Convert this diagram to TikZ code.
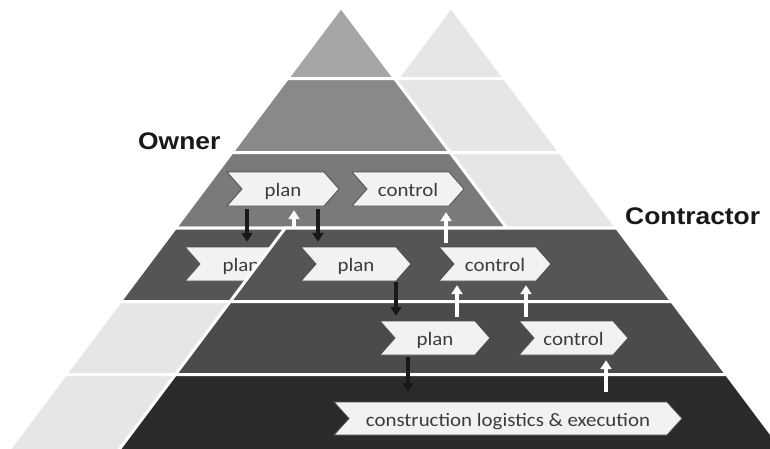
\documentclass[tikz,border=0pt]{standalone}
\usepackage{fontspec}
\setmainfont{Carlito}
\newfontfamily\labfont{Liberation Sans}
\usetikzlibrary{arrows.meta,calc}
\definecolor{lightb}{HTML}{E6E6E6}
\definecolor{ob1}{HTML}{A6A6A6}
\definecolor{ob2}{HTML}{898989}
\definecolor{ob3}{HTML}{7A7A7A}
\definecolor{db4}{HTML}{555555}
\definecolor{db5}{HTML}{4B4B4B}
\definecolor{db6}{HTML}{2B2B2B}
\definecolor{chevfill}{HTML}{F2F2F2}
\definecolor{chevtext}{HTML}{3C3C3C}
\tikzset{
  band/.style={draw=white, line width=3pt, line join=miter},
  chevshape/.style={fill=chevfill, draw=black!70, line width=0.8pt, line join=miter},
  chevlabel/.style={inner sep=0pt, text=chevtext, font=\fontsize{19}{22}\selectfont, text height=15pt, text depth=0pt},
  blkarrow/.style={draw=black!90, line width=3.5pt, -{Triangle[width=11pt,length=9pt]}},
  whtarrow/.style={draw=white, line width=3.5pt, -{Triangle[width=11pt,length=9pt]}},
  sidelabel/.style={inner sep=0pt, text=black!90, font=\labfont\bfseries\fontsize{24}{28}\selectfont}
}
\newcommand\pyrband[4]{% center x, top y, bottom y, colour
  \path[band, fill=#4] ({#1-0.75*(#2-7)},#2) -- ({#1+0.75*(#2-7)},#2) -- ({#1+0.75*(#3-7)},#3) -- ({#1-0.75*(#3-7)},#3) -- cycle;}
\newcommand\pyrtop[3]{% center x, bottom y, colour
  \path[band, fill=#3] (#1,7) -- ({#1+0.75*(#2-7)},#2) -- ({#1-0.75*(#2-7)},#2) -- cycle;}
\newcommand\mkchev[6]{% name, cx, cy, width, height, text
  \path[chevshape] ({#2-#4/2},{#3-#5/2}) -- ({#2+#4/2-15},{#3-#5/2}) -- ({#2+#4/2},#3) -- ({#2+#4/2-15},{#3+#5/2}) -- ({#2-#4/2},{#3+#5/2}) -- ({#2-#4/2+15},#3) -- cycle;
  \node[chevlabel, minimum width=#4pt, minimum height=#5pt] (#1) at (#2,#3) {\scalebox{1.1}[1]{#6}};}
\begin{document}
\begin{tikzpicture}[x=1pt,y=-1pt]
\useasboundingbox (0,0) rectangle (770,448);
\clip (0,0) rectangle (770,448);
% contractor upper bands
\pyrtop{451}{78.5}{lightb}
\pyrband{451}{78.5}{152.5}{lightb}
\pyrband{451}{152.5}{228}{lightb}
% owner upper bands
\pyrtop{341}{78.5}{ob1}
\pyrband{341}{78.5}{152.5}{ob2}
\pyrband{341}{152.5}{228}{ob3}
% owner lower bands
\pyrband{341}{228}{301.5}{db4}
\pyrband{341}{301.5}{374.5}{lightb}
\pyrband{341}{374.5}{452}{lightb}
\mkchev{op4}{241}{264}{112}{34}{plan}
% contractor lower bands
\pyrband{451}{228}{301.5}{db4}
\pyrband{451}{301.5}{374.5}{db5}
\pyrband{451}{374.5}{452}{db6}
% chevrons
\mkchev{op3}{283}{189}{112}{34}{plan}
\mkchev{oc3}{408}{189}{112}{34}{control}
\mkchev{cp4}{356}{264}{110}{34}{plan}
\mkchev{cc4}{495}{264}{112}{34}{control}
\mkchev{cp5}{435}{338}{110}{34}{plan}
\mkchev{cc5}{573.5}{338}{109}{34}{control}
\mkchev{ce6}{508}{418.5}{348}{33}{construction logistics \& execution}
% arrows
\draw[blkarrow, shorten <=3pt, shorten >=5pt] ([xshift=-36pt]op3.south) -- ([xshift=-36pt]op3.south |- op4.north);
\draw[blkarrow, shorten <=3pt, shorten >=5pt] ([xshift=35pt]op3.south) -- ([xshift=35pt]op3.south |- cp4.north);
\coordinate (wstart) at (294,228);
\draw[whtarrow, shorten >=4pt] (wstart) -- (wstart |- op3.south);
\draw[whtarrow, shorten <=4pt, shorten >=6pt] ([xshift=38pt]oc3.south |- cc4.north) -- ([xshift=38pt]oc3.south);
\draw[blkarrow, shorten <=1pt, shorten >=5pt] ([xshift=40pt]cp4.south) -- ([xshift=40pt]cp4.south |- cp5.north);
\draw[whtarrow, shorten <=4pt, shorten >=4pt] ([xshift=-38pt]cc4.south |- cp5.north) -- ([xshift=-38pt]cc4.south);
\draw[whtarrow, shorten <=4pt, shorten >=4pt] ([xshift=31pt]cc4.south |- cc5.north) -- ([xshift=31pt]cc4.south);
\draw[blkarrow, shorten <=2pt, shorten >=10pt] ([xshift=-27pt]cp5.south) -- ([xshift=-27pt]cp5.south |- ce6.north);
\draw[whtarrow, shorten <=10pt, shorten >=5pt] ([xshift=32.5pt]cc5.south |- ce6.north) -- ([xshift=32.5pt]cc5.south);
% labels
\node[sidelabel, anchor=base west] (owner) at (138,149) {\scalebox{1.1}[1]{Owner}};
\node[sidelabel, anchor=base west] (contractor) at (625,224) {\scalebox{1.1}[1]{Contractor}};
\end{tikzpicture}
\end{document}
